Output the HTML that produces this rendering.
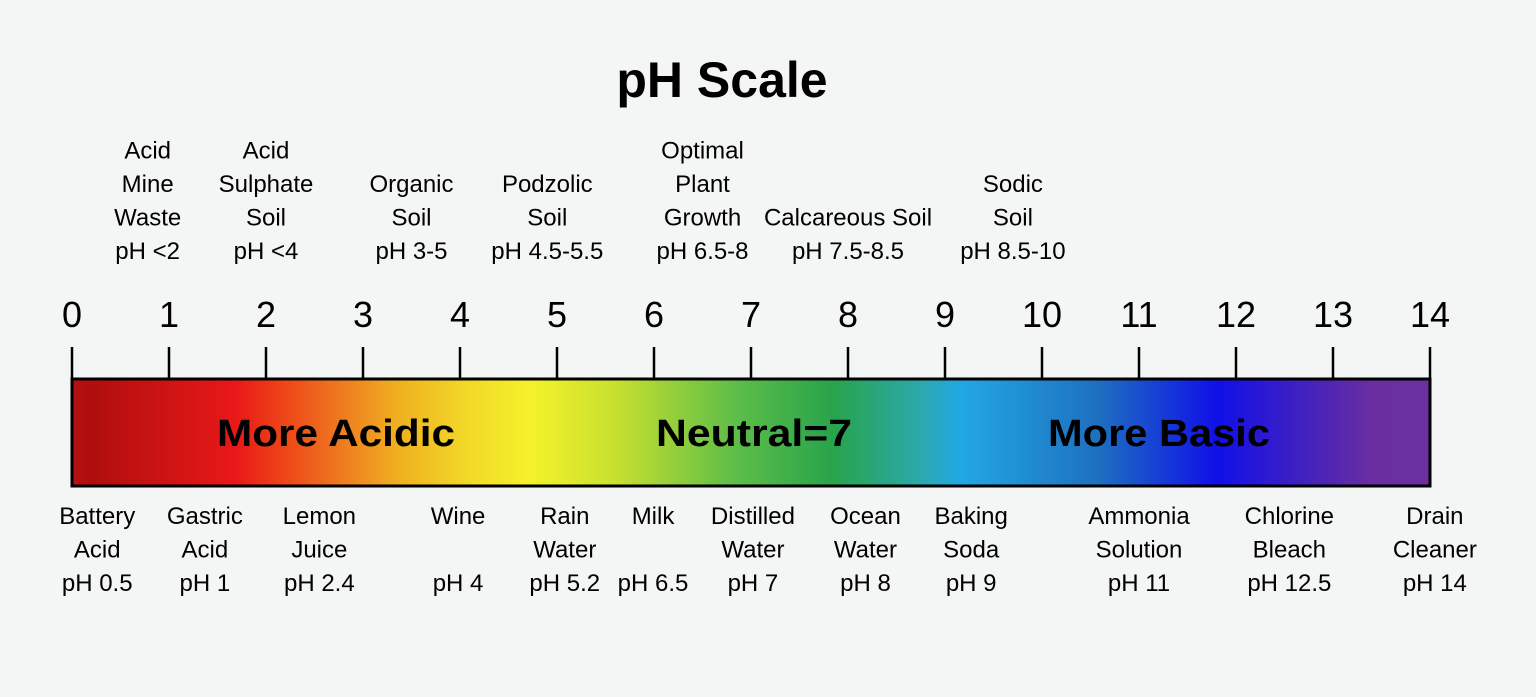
<!DOCTYPE html>
<html><head><meta charset="utf-8"><style>
html,body{margin:0;padding:0;background:#f4f5f5;}
svg{display:block;font-family:"Liberation Sans",sans-serif;}
</style></head><body>
<svg id="chart" width="1536" height="697" viewBox="0 0 1536 697" xmlns="http://www.w3.org/2000/svg">
<defs>
<linearGradient id="grad" x1="0" x2="1" y1="0" y2="0">
<stop offset="0" stop-color="#b51212"/>
<stop offset="0.0125" stop-color="#b00e0e"/>
<stop offset="0.12" stop-color="#e81818"/>
<stop offset="0.16" stop-color="#ee4a18"/>
<stop offset="0.19" stop-color="#ee7020"/>
<stop offset="0.24" stop-color="#f0b020"/>
<stop offset="0.29" stop-color="#f2d828"/>
<stop offset="0.338" stop-color="#f4f22a"/>
<stop offset="0.40" stop-color="#c8e030"/>
<stop offset="0.49" stop-color="#5cbd48"/>
<stop offset="0.56" stop-color="#28a44a"/>
<stop offset="0.627" stop-color="#2aa9b0"/>
<stop offset="0.654" stop-color="#22a8e4"/>
<stop offset="0.755" stop-color="#1e70c0"/>
<stop offset="0.843" stop-color="#1010e8"/>
<stop offset="0.958" stop-color="#6a2ea0"/>
<stop offset="1" stop-color="#6a30a0"/>
</linearGradient>
</defs>
<text x="722" y="97" text-anchor="middle" font-size="50" font-weight="bold" fill="#000">pH Scale</text>
<g id="ticks"></g>
<rect x="72" y="379" width="1358" height="107" fill="url(#grad)" stroke="#000" stroke-width="3"/>
<text x="336" y="446" text-anchor="middle" font-size="38" font-weight="bold" textLength="238" lengthAdjust="spacingAndGlyphs">More Acidic</text>
<text x="754" y="446" text-anchor="middle" font-size="38" font-weight="bold" textLength="196" lengthAdjust="spacingAndGlyphs">Neutral=7</text>
<text x="1159" y="446" text-anchor="middle" font-size="38" font-weight="bold" textLength="222" lengthAdjust="spacingAndGlyphs">More Basic</text>
<g id="top-labels"></g>
<g id="bottom-labels"></g>
</svg>
<script>
const tickValues = [0,1,2,3,4,5,6,7,8,9,10,11,12,13,14];
const topLabels = [
  ["Acid","Mine","Waste","pH <2"],
  ["Acid","Sulphate","Soil","pH <4"],
  ["Organic","Soil","pH 3-5"],
  ["Podzolic","Soil","pH 4.5-5.5"],
  ["Optimal","Plant","Growth","pH 6.5-8"],
  ["Calcareous Soil","pH 7.5-8.5"],
  ["Sodic","Soil","pH 8.5-10"]
];
const topPositions = [0.78, 2.0, 3.5, 4.9, 6.5, 8.0, 9.7];
const bottomLabels = [
  ["Battery","Acid","pH 0.5"],
  ["Gastric","Acid","pH 1"],
  ["Lemon","Juice","pH 2.4"],
  ["Wine","","pH 4"],
  ["Rain","Water","pH 5.2"],
  ["Milk","","pH 6.5"],
  ["Distilled","Water","pH 7"],
  ["Ocean","Water","pH 8"],
  ["Baking","Soda","pH 9"],
  ["Ammonia","Solution","pH 11"],
  ["Chlorine","Bleach","pH 12.5"],
  ["Drain","Cleaner","pH 14"]
];
const bottomPositions = [0.26, 1.37, 2.55, 3.98, 5.08, 5.99, 7.02, 8.18, 9.27, 11.0, 12.55, 14.05];

const NS = "http://www.w3.org/2000/svg";
function xScale(v){ return 72 + v * (1430 - 72) / 14; }

const tg = document.getElementById("ticks");
tickValues.forEach(v => {
  const x = xScale(v);
  const ln = document.createElementNS(NS, "line");
  
  
  ln.setAttribute("x1", x); ln.setAttribute("x2", x);
  ln.setAttribute("y1", 347); ln.setAttribute("y2", 380);
  ln.setAttribute("stroke", "#000"); ln.setAttribute("stroke-width", "2.5");
  tg.appendChild(ln);
  const t = document.createElementNS(NS, "text");
  
  
  t.setAttribute("x", x); t.setAttribute("y", 327);
  t.setAttribute("text-anchor", "middle");
  t.setAttribute("font-size", "36");
  t.textContent = String(v);
  tg.appendChild(t);
});

const lineH = 33.5;
const topG = document.getElementById("top-labels");
topLabels.forEach((lines, i) => {
  const x = xScale(topPositions[i]);
  const lastBase = 259;
  lines.forEach((s, j) => {
    const t = document.createElementNS(NS, "text");
    
    
    t.setAttribute("x", x);
    t.setAttribute("y", lastBase - (lines.length - 1 - j) * lineH);
    t.setAttribute("text-anchor", "middle");
    t.setAttribute("font-size", "24");
    t.textContent = s;
    topG.appendChild(t);
  });
});

const botG = document.getElementById("bottom-labels");
bottomLabels.forEach((lines, i) => {
  const x = xScale(bottomPositions[i]);
  lines.forEach((s, j) => {
    if (!s) return;
    const t = document.createElementNS(NS, "text");
    
    
    t.setAttribute("x", x);
    t.setAttribute("y", 524 + j * lineH);
    t.setAttribute("text-anchor", "middle");
    t.setAttribute("font-size", "24");
    t.textContent = s;
    botG.appendChild(t);
  });
});
</script>
</body></html>
